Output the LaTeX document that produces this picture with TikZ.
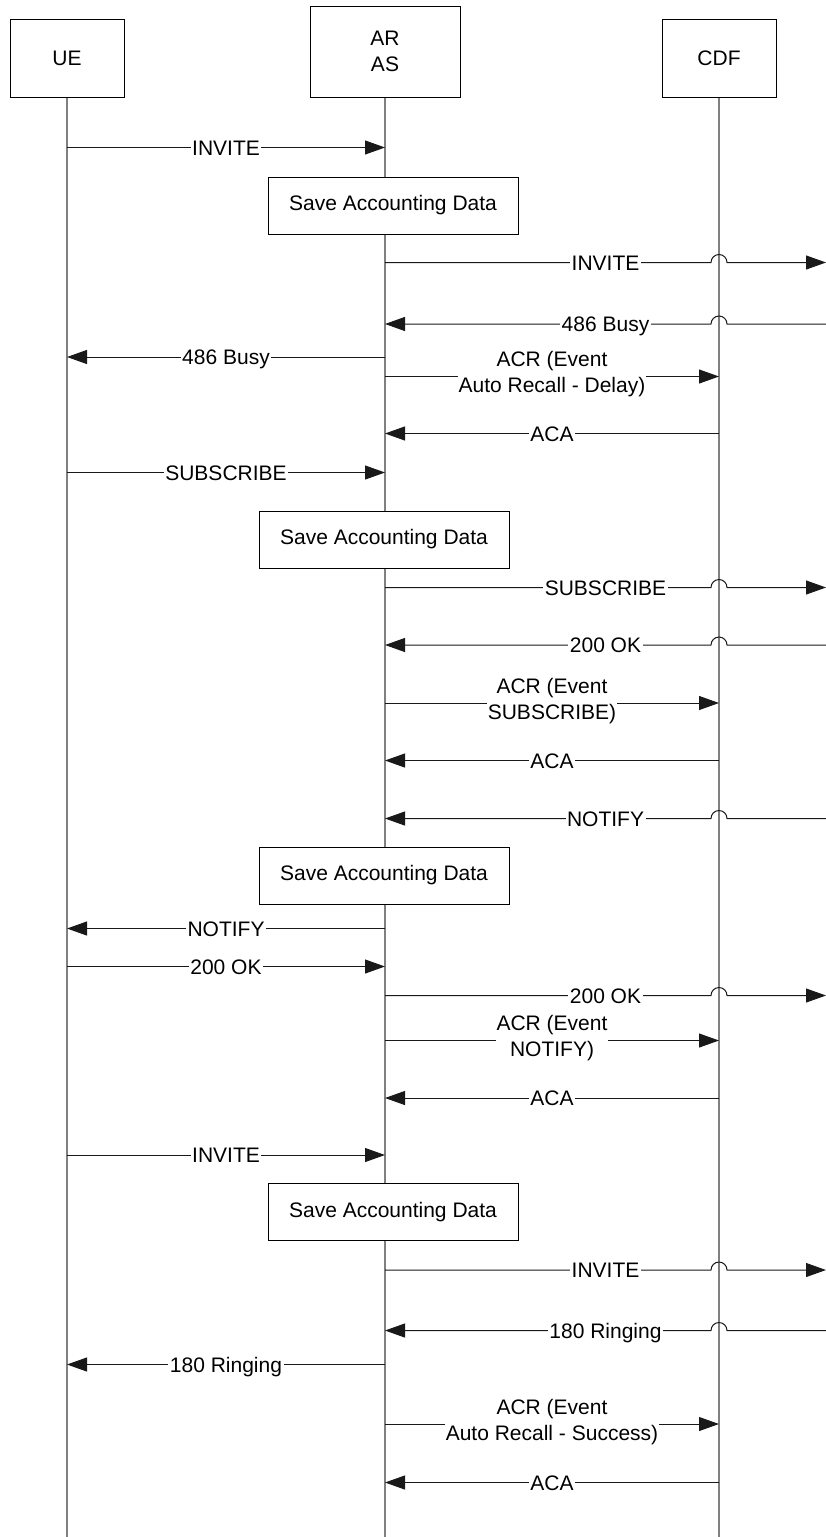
\documentclass[tikz,border=0pt]{standalone}
\usepackage{fontspec}
\setmainfont{Liberation Sans}
\usetikzlibrary{arrows.meta,calc}
\begin{document}
\begin{tikzpicture}[x=1pt,y=-1pt,
  every node/.style={font=\fontsize{21}{26}\selectfont},
  head/.style={draw=black, line width=1pt, fill=white, align=center, inner sep=0pt},
  lifeline/.style={draw=black!50, line width=1.4pt},
  msg/.style={draw=black!90, line width=1pt, -{Triangle[length=20pt,width=14pt]}},
  lbl/.style={fill=white, inner xsep=1.5pt, inner ysep=0pt, text height=15pt, text depth=0pt},
  lbltwo/.style={fill=white, inner xsep=1pt, inner ysep=1pt, align=center, yshift=2pt},
  action/.style={draw=black, line width=1pt, fill=white, inner sep=0pt, minimum width=250pt, minimum height=57pt},
]
\useasboundingbox (0,0) rectangle (826,1537);

% heads
\node[head, minimum width=114pt, minimum height=78pt] (ue) at (67,58) {UE};
\node[head, minimum width=150pt, minimum height=91pt] (ar) at (385,51.5) {AR\\AS};
\node[head, minimum width=114pt, minimum height=78pt] (cdf) at (719,58) {CDF};

% lifelines
\coordinate (ueEnd) at (67,1537);
\coordinate (arEnd) at (385,1537);
\coordinate (cdfEnd) at (719,1537);
\coordinate (redge) at (826,0);
\draw[lifeline] (ue.south) -- (ueEnd);
\draw[lifeline] (ar.south) -- (arEnd);
\draw[lifeline] (cdf.south) -- (cdfEnd);

% 1 INVITE UE -> AR
\coordinate (m1s) at (67,147.5); \coordinate (m1e) at (385,147.5);
\draw[msg] (m1s) -- node[lbl]{INVITE} (m1e);

\node[action] (s1) at (393,205.5) {Save Accounting Data};

% 3 INVITE AR -> right
\coordinate (m3s) at (385,262.5); \coordinate (m3e) at (826,262.5);
\draw[msg] (m3s) -- ([xshift=-8pt]cdf.south |- m3s) arc[start angle=180,end angle=0,radius=8pt] -- (m3e);
\node[lbl] at ($(m3s)!0.5!(m3e)$) {INVITE};

% 4 486 Busy right -> AR
\coordinate (m4s) at (826,324); \coordinate (m4e) at (385,324);
\draw[msg] (m4s) -- ([xshift=8pt]cdf.south |- m4s) arc[start angle=0,end angle=180,radius=8pt] -- (m4e);
\node[lbl] at ($(m4s)!0.5!(m4e)$) {486 Busy};

% 5 486 Busy AR -> UE
\coordinate (m5s) at (385,357); \coordinate (m5e) at (67,357);
\draw[msg] (m5s) -- node[lbl]{486 Busy} (m5e);

% 6 ACR
\coordinate (m6s) at (385,376.5); \coordinate (m6e) at (719,376.5);
\draw[msg] (m6s) -- node[lbltwo]{ACR (Event\\Auto Recall - Delay)} (m6e);

% 7 ACA
\coordinate (m7s) at (719,433.5); \coordinate (m7e) at (385,433.5);
\draw[msg] (m7s) -- node[lbl]{ACA} (m7e);

% 8 SUBSCRIBE UE -> AR
\coordinate (m8s) at (67,472.5); \coordinate (m8e) at (385,472.5);
\draw[msg] (m8s) -- node[lbl]{SUBSCRIBE} (m8e);

\node[action] (s2) at (384,539.5) {Save Accounting Data};

% 10 SUBSCRIBE AR -> right
\coordinate (m10s) at (385,587.5); \coordinate (m10e) at (826,587.5);
\draw[msg] (m10s) -- ([xshift=-8pt]cdf.south |- m10s) arc[start angle=180,end angle=0,radius=8pt] -- (m10e);
\node[lbl] at ($(m10s)!0.5!(m10e)$) {SUBSCRIBE};

% 11 200 OK right -> AR
\coordinate (m11s) at (826,645); \coordinate (m11e) at (385,645);
\draw[msg] (m11s) -- ([xshift=8pt]cdf.south |- m11s) arc[start angle=0,end angle=180,radius=8pt] -- (m11e);
\node[lbl] at ($(m11s)!0.5!(m11e)$) {200 OK};

% 12 ACR
\coordinate (m12s) at (385,703); \coordinate (m12e) at (719,703);
\draw[msg] (m12s) -- node[lbltwo]{ACR (Event\\SUBSCRIBE)} (m12e);

% 13 ACA
\coordinate (m13s) at (719,760.5); \coordinate (m13e) at (385,760.5);
\draw[msg] (m13s) -- node[lbl]{ACA} (m13e);

% 14 NOTIFY right -> AR
\coordinate (m14s) at (826,818.5); \coordinate (m14e) at (385,818.5);
\draw[msg] (m14s) -- ([xshift=8pt]cdf.south |- m14s) arc[start angle=0,end angle=180,radius=8pt] -- (m14e);
\node[lbl] at ($(m14s)!0.5!(m14e)$) {NOTIFY};

\node[action] (s3) at (384,875.5) {Save Accounting Data};

% 16 NOTIFY AR -> UE
\coordinate (m16s) at (385,928.5); \coordinate (m16e) at (67,928.5);
\draw[msg] (m16s) -- node[lbl]{NOTIFY} (m16e);

% 17 200 OK UE -> AR
\coordinate (m17s) at (67,966.5); \coordinate (m17e) at (385,966.5);
\draw[msg] (m17s) -- node[lbl]{200 OK} (m17e);

% 18 200 OK AR -> right
\coordinate (m18s) at (385,995.5); \coordinate (m18e) at (826,995.5);
\draw[msg] (m18s) -- ([xshift=-8pt]cdf.south |- m18s) arc[start angle=180,end angle=0,radius=8pt] -- (m18e);
\node[lbl] at ($(m18s)!0.5!(m18e)$) {200 OK};

% 19 ACR
\coordinate (m19s) at (385,1040.5); \coordinate (m19e) at (719,1040.5);
\draw[msg] (m19s) -- node[lbltwo]{ACR (Event\\NOTIFY)} (m19e);

% 20 ACA
\coordinate (m20s) at (719,1098); \coordinate (m20e) at (385,1098);
\draw[msg] (m20s) -- node[lbl]{ACA} (m20e);

% 21 INVITE UE -> AR
\coordinate (m21s) at (67,1155); \coordinate (m21e) at (385,1155);
\draw[msg] (m21s) -- node[lbl]{INVITE} (m21e);

\node[action] (s4) at (393,1212) {Save Accounting Data};

% 23 INVITE AR -> right
\coordinate (m23s) at (385,1270); \coordinate (m23e) at (826,1270);
\draw[msg] (m23s) -- ([xshift=-8pt]cdf.south |- m23s) arc[start angle=180,end angle=0,radius=8pt] -- (m23e);
\node[lbl] at ($(m23s)!0.5!(m23e)$) {INVITE};

% 24 180 Ringing right -> AR
\coordinate (m24s) at (826,1330.5); \coordinate (m24e) at (385,1330.5);
\draw[msg] (m24s) -- ([xshift=8pt]cdf.south |- m24s) arc[start angle=0,end angle=180,radius=8pt] -- (m24e);
\node[lbl] at ($(m24s)!0.5!(m24e)$) {180 Ringing};

% 25 180 Ringing AR -> UE
\coordinate (m25s) at (385,1364.5); \coordinate (m25e) at (67,1364.5);
\draw[msg] (m25s) -- node[lbl]{180 Ringing} (m25e);

% 26 ACR
\coordinate (m26s) at (385,1424); \coordinate (m26e) at (719,1424);
\draw[msg] (m26s) -- node[lbltwo]{ACR (Event\\Auto Recall - Success)} (m26e);

% 27 ACA
\coordinate (m27s) at (719,1482.5); \coordinate (m27e) at (385,1482.5);
\draw[msg] (m27s) -- node[lbl]{ACA} (m27e);
\end{tikzpicture}
\end{document}
